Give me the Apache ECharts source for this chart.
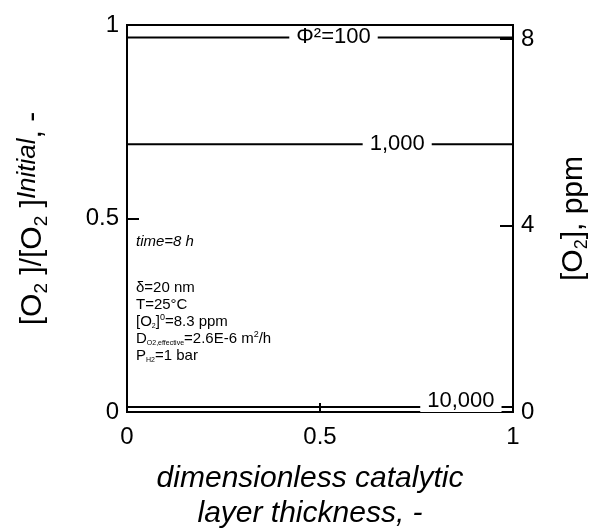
<!DOCTYPE html>
<html>
<head>
<meta charset="utf-8">
<script src="https://cdn.jsdelivr.net/npm/echarts@6/dist/echarts.min.js"></script>
<style>
  html, body { margin: 0; padding: 0; background: #fff; }
  #chart { width: 593px; height: 528px; }
</style>
</head>
<body>
<div id="chart"></div>
<script>
// data
var phiLabels = ['Φ²=100', '1,000', '10,000'];
var ratioLevels = [0.968, 0.692, 0.013];   // [O2]/[O2]initial, flat over the layer
var xEnds = [0, 1];
var xTicks = [0, 0.5, 1];
var leftTicks = [0, 0.5, 1];
var rightTicks = [0, 4, 8];
var o2Initial = 8.3; // ppm

var FONT = '"Liberation Sans", Arial, sans-serif';
var labelX = [0.535, 0.70, 0.865];
var labelDy = [0, 0, -6];

var series = ratioLevels.map(function (v, i) {
  return {
    type: 'line',
    yAxisIndex: 0,
    symbol: 'circle',
    symbolSize: 0,
    showSymbol: true,
    lineStyle: { color: '#000', width: 2 },
    itemStyle: { color: '#000' },
    silent: true,
    z: 3,
    data: [
      { value: [xEnds[0], v] },
      {
        value: [labelX[i], v],
        label: {
          show: true,
          position: 'inside',
          offset: [0, labelDy[i]],
          formatter: phiLabels[i],
          color: '#000',
          fontFamily: FONT,
          fontSize: 22,
          backgroundColor: '#fff',
          padding: [0, 7, 0, 7]
        }
      },
      { value: [xEnds[1], v] }
    ]
  };
});

var chart = echarts.init(document.getElementById('chart'));
chart.setOption({
  animation: false,
  backgroundColor: '#fff',
  grid: {
    left: 127, right: 80, top: 25, bottom: 116,
    outerBoundsMode: 'none',
    containLabel: false,
    show: true, borderColor: '#000', borderWidth: 2, backgroundColor: 'transparent'
  },
  xAxis: {
    type: 'value', min: 0, max: 1, interval: 0.5,
    axisLine: { show: true, lineStyle: { color: '#000', width: 2 } },
    axisTick: { show: true, inside: true, length: 9, lineStyle: { color: '#000', width: 2 }, customValues: xTicks },
    axisLabel: { color: '#000', fontFamily: FONT, fontSize: 24, margin: 13, customValues: xTicks },
    splitLine: { show: false },
    name: 'dimensionless catalytic\nlayer thickness, -',
    nameLocation: 'middle',
    nameGap: 49,
    nameTextStyle: {
      color: '#000', fontFamily: FONT, fontSize: 30, fontStyle: 'italic', lineHeight: 35,
      padding: [0, 20, 0, 0]
    }
  },
  yAxis: [{
    type: 'value', min: 0, max: 1, interval: 0.5, position: 'left',
    axisLine: { show: true, lineStyle: { color: '#000', width: 2 } },
    axisTick: { show: true, inside: true, length: 12, lineStyle: { color: '#000', width: 2 }, customValues: leftTicks },
    axisLabel: { color: '#000', fontFamily: FONT, fontSize: 24, margin: 8, customValues: leftTicks },
    splitLine: { show: false },
    name: '[O{sub|2} ]/[O{sub|2} ]{sup|Initial}, -',
    nameLocation: 'middle',
    nameGap: 76,
    nameRotate: 90,
    nameTextStyle: {
      color: '#000', fontFamily: FONT, fontSize: 30, lineHeight: 36,
      rich: {
        sub: { fontFamily: FONT, fontSize: 19, color: '#000', verticalAlign: 'bottom', lineHeight: 36 },
        sup: { fontFamily: FONT, fontSize: 26, fontStyle: 'italic', color: '#000', verticalAlign: 'top', lineHeight: 36 }
      }
    }
  }, {
    type: 'value', min: 0, max: o2Initial, position: 'right',
    axisLine: { show: true, lineStyle: { color: '#000', width: 2 } },
    axisTick: { show: true, inside: true, length: 13, lineStyle: { color: '#000', width: 2 }, customValues: rightTicks },
    axisLabel: { color: '#000', fontFamily: FONT, fontSize: 24, margin: 8, customValues: rightTicks },
    splitLine: { show: false },
    name: '[O{sub|2}], ppm',
    nameLocation: 'middle',
    nameGap: 44,
    nameRotate: 90,
    nameTextStyle: {
      color: '#000', fontFamily: FONT, fontSize: 30, lineHeight: 34,
      rich: {
        sub: { fontFamily: FONT, fontSize: 18, color: '#000', verticalAlign: 'bottom', lineHeight: 34 }
      }
    }
  }],
  graphic: [{
    type: 'text', left: 136, top: 234,
    style: { text: 'time=8 h', font: 'italic 15px ' + FONT, fill: '#000' }
  }, {
    type: 'text', left: 136, top: 279,
    style: {
      text: 'δ=20 nm\nT=25°C\n[O{s|2}]{p|0}=8.3 ppm\nD{s|O2,effective}=2.6E-6 m{p|2}/h\nP{s|H2}=1 bar',
      font: '15px ' + FONT,
      fill: '#000',
      lineHeight: 17,
      rich: {
        s: { fontSize: 7, fontFamily: FONT, fill: '#000', verticalAlign: 'bottom', lineHeight: 17 },
        p: { fontSize: 9, fontFamily: FONT, fill: '#000', verticalAlign: 'top', lineHeight: 17 }
      }
    }
  }],
  series: series
});
</script>
</body>
</html>
